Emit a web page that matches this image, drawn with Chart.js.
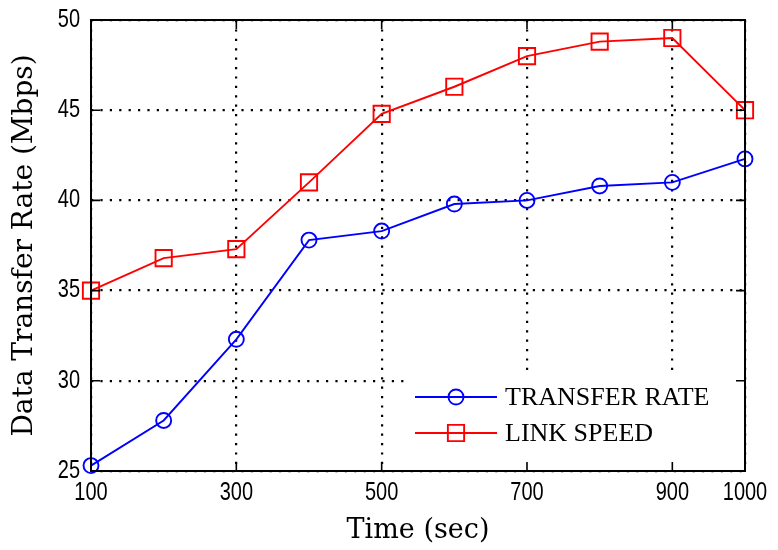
<!DOCTYPE html>
<html>
<head>
<meta charset="utf-8">
<script src="https://cdn.jsdelivr.net/npm/chart.js@4/dist/chart.umd.min.js"></script>
<style>
  html, body { margin: 0; padding: 0; background: #fff; }
  #wrap { width: 778px; height: 550px; }
</style>
</head>
<body>
<div id="wrap"><canvas id="c" width="778" height="550"></canvas></div>
<script>
// Time samples (sec)
const timeSec = [100, 200, 300, 400, 500, 600, 700, 800, 900, 1000];
// Measured throughput (Mbps)
const transferRate = [25.3, 27.8, 32.3, 37.8, 38.3, 39.8, 40.0, 40.8, 41.0, 42.3];
const linkSpeed    = [35.0, 36.8, 37.3, 41.0, 44.8, 46.3, 48.0, 48.8, 49.0, 45.0];
// Axis ticks
const xTicks = [100, 300, 500, 700, 900, 1000];
const yTicks = [25, 30, 35, 40, 45, 50];

const SERIF = "'DejaVu Serif', serif";
const LEG_SERIF = "'Liberation Serif', serif";
const SANS = "'Liberation Sans', Arial, sans-serif";

// Condensed numeric tick label (sans face squeezed horizontally)
function narrowText(ctx, text, x, y, align) {
  ctx.save();
  ctx.font = '25px ' + SANS;
  ctx.textBaseline = 'middle';
  ctx.textAlign = align;
  ctx.translate(x, y);
  ctx.scale(0.8, 1);
  ctx.fillText(text, 0, 0);
  ctx.restore();
}

// Tick labels, inward tick marks, full box and the legend panel inside the plot
const frame = {
  id: 'frame',
  afterDraw(chart) {
    const { ctx, chartArea: a, scales: { x, y } } = chart;
    ctx.save();

    // legend panel (lower right)
    const lx = a.right - 340, ly = a.bottom - 99;
    ctx.fillStyle = '#fff';
    ctx.fillRect(lx, ly, a.right - lx, a.bottom - ly);
    chart.data.datasets.forEach((ds, i) => {
      const cy = ly + 25 + i * 36;
      ctx.strokeStyle = ds.borderColor;
      ctx.lineWidth = ds.borderWidth;
      ctx.beginPath();
      ctx.moveTo(lx + 10, cy);
      ctx.lineTo(lx + 92, cy);
      ctx.stroke();
      ctx.fillStyle = 'rgba(0,0,0,0)';
      Chart.helpers.drawPoint(ctx, {
        pointStyle: ds.pointStyle, radius: ds.pointRadius, borderWidth: ds.pointBorderWidth, rotation: 0
      }, lx + 51, cy);
      ctx.fillStyle = '#000';
      ctx.font = '26px ' + LEG_SERIF;
      ctx.textBaseline = 'middle';
      ctx.textAlign = 'left';
      ctx.fillText(ds.label, lx + 100, cy + 1);
    });

    // inward tick marks
    ctx.strokeStyle = '#000';
    ctx.lineWidth = 1.6;
    const L = 9;
    ctx.beginPath();
    x.ticks.forEach(t => {
      const px = x.getPixelForValue(t.value);
      ctx.moveTo(px, a.bottom); ctx.lineTo(px, a.bottom - L);
      ctx.moveTo(px, a.top); ctx.lineTo(px, a.top + L);
    });
    y.ticks.forEach(t => {
      const py = y.getPixelForValue(t.value);
      ctx.moveTo(a.left, py); ctx.lineTo(a.left + L, py);
      ctx.moveTo(a.right, py); ctx.lineTo(a.right - L, py);
    });
    ctx.stroke();

    // box
    ctx.lineWidth = 2;
    ctx.strokeRect(a.left, a.top, a.right - a.left, a.bottom - a.top);

    // tick labels
    ctx.fillStyle = '#000';
    x.ticks.forEach(t => narrowText(ctx, String(t.value), x.getPixelForValue(t.value), a.bottom + 22, 'center'));
    y.ticks.forEach(t => narrowText(ctx, String(t.value), a.left - 11, y.getPixelForValue(t.value), 'right'));
    ctx.restore();
  }
};

new Chart(document.getElementById('c'), {
  type: 'line',
  data: {
    labels: timeSec,
    datasets: [
      {
        label: 'TRANSFER RATE',
        data: timeSec.map((t, i) => ({ x: t, y: transferRate[i] })),
        borderColor: '#0000ff',
        backgroundColor: 'transparent',
        borderWidth: 1.9,
        pointStyle: 'circle',
        pointRadius: 7.5,
        pointBorderWidth: 1.9,
        pointBorderColor: '#0000ff',
        pointBackgroundColor: 'transparent',
        tension: 0,
        clip: false
      },
      {
        label: 'LINK SPEED',
        data: timeSec.map((t, i) => ({ x: t, y: linkSpeed[i] })),
        borderColor: '#ff0000',
        backgroundColor: 'transparent',
        borderWidth: 1.9,
        pointStyle: 'rect',
        pointRadius: 11.5,
        pointBorderWidth: 1.9,
        pointBorderColor: '#ff0000',
        pointBackgroundColor: 'transparent',
        tension: 0,
        clip: false
      }
    ]
  },
  options: {
    responsive: false,
    animation: false,
    events: [],
    layout: { padding: { top: 20, right: 33, left: 0, bottom: 0 } },
    plugins: { legend: { display: false }, tooltip: { enabled: false } },
    scales: {
      x: {
        type: 'linear',
        min: 100,
        max: 1000,
        afterBuildTicks: s => { s.ticks = xTicks.map(v => ({ value: v })); },
        afterFit: s => { s.height = 79; },
        ticks: { display: false },
        grid: { color: '#000', lineWidth: 2.2, drawTicks: false },
        border: { display: false, dash: [2.2, 7.2] },
        title: {
          display: true, text: 'Time (sec)', color: '#000',
          font: { family: SERIF, size: 27, lineHeight: 1.2 }, padding: { top: 0, bottom: 3 }
        }
      },
      y: {
        type: 'linear',
        min: 25,
        max: 50,
        afterBuildTicks: s => { s.ticks = yTicks.map(v => ({ value: v })); },
        afterFit: s => { s.width = 91; },
        ticks: { display: false },
        grid: { color: '#000', lineWidth: 2.2, drawTicks: false },
        border: { display: false, dash: [2.2, 7.2] },
        title: {
          display: true, text: 'Data Transfer Rate (Mbps)', color: '#000',
          font: { family: SERIF, size: 28, lineHeight: 1.2 }, padding: { top: 8, bottom: 0 }
        }
      }
    }
  },
  plugins: [frame]
});
</script>
</body>
</html>
